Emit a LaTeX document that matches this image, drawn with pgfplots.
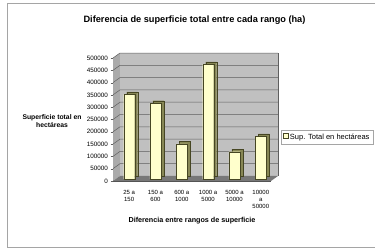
\documentclass[border=0pt]{standalone}
\usepackage{fontspec}
\setmainfont{Liberation Sans}
\usepackage{pgfplots}
\pgfplotsset{compat=1.18}
\definecolor{wall}{RGB}{192,192,192}
\definecolor{sidewall}{RGB}{170,170,170}
\definecolor{floorc}{RGB}{120,120,120}
\definecolor{gridc}{RGB}{95,95,95}
\definecolor{barfill}{RGB}{255,255,204}
\definecolor{barside}{RGB}{135,135,85}
\definecolor{baredge}{RGB}{70,70,35}
\definecolor{framec}{RGB}{165,165,165}
\begin{document}
\begin{tikzpicture}[x=1pt,y=1pt]
\useasboundingbox (0,0) rectangle (375,249);
\draw[framec, line width=0.9pt] (380,245.5) -- (7,245.5) -- (7,1.5) -- (380,1.5);
\node[font=\bfseries\fontsize{9.2}{10}\selectfont] at (194.5,229) {Diferencia de superficie total entre cada rango (ha)};
\node[font=\bfseries\fontsize{6.8}{8}\selectfont, align=center] at (52,128) {Superficie total en\\hectáreas};
\node[font=\bfseries\fontsize{7.2}{8}\selectfont] at (192,28.5) {Diferencia entre rangos de superficie};
\begin{axis}[
  at={(113pt,68pt)}, anchor=south west,
  scale only axis, width=158pt, height=123pt,
  xmin=-0.5, xmax=5.5, ymin=0, ymax=500000,
  axis lines*=left,
  axis line style={-},
  x axis line style={draw=none},
  y axis line style={draw=gridc},
  xtick={0,1,2,3,4,5},
  xticklabels={25 a\\150, 150 a\\600, 600 a\\1000, 1000 a\\5000, 5000 a\\10000, 10000\\a\\50000},
  xtick style={draw=none},
  xticklabel style={align=center, yshift=-3pt, xshift=3pt, font=\fontsize{6}{7}\selectfont},
  ytick={0,50000,100000,150000,200000,250000,300000,350000,400000,450000,500000},
  ytick style={draw=gridc},
  tick align=outside,
  major tick length=2.5pt,
  yticklabel style={font=\fontsize{6.3}{7}\selectfont, xshift=1pt, /pgf/number format/fixed, /pgf/number format/1000 sep={}, /pgf/number format/assume math mode=true},
  scaled y ticks=false,
  clip=false,
  legend style={at={(rel axis cs:1.063,0.355)}, anchor=west, draw=framec, font=\fontsize{7.5}{8}\selectfont, inner sep=1.5pt, row sep=0pt},
  legend image code/.code={\draw[fill=barfill, draw=baredge, line width=0.3pt] (0pt,-2.5pt) rectangle (5pt,2.5pt);},
]
% side wall
\fill[sidewall] (axis cs:-0.5,0) -- (axis cs:-0.5,500000) -- ([xshift=7pt,yshift=5pt]axis cs:-0.5,500000) -- ([xshift=7pt,yshift=5pt]axis cs:-0.5,0) -- cycle;
% back wall
\fill[wall] ([xshift=7pt,yshift=5pt]axis cs:-0.5,0) rectangle ([xshift=7pt,yshift=5pt]axis cs:5.5,500000);
% floor
\fill[floorc] (axis cs:-0.5,0) -- (axis cs:5.5,0) -- ([xshift=7pt,yshift=5pt]axis cs:5.5,0) -- ([xshift=7pt,yshift=5pt]axis cs:-0.5,0) -- cycle;
\fill[floorc!70!black] (axis cs:-0.5,0) -- (axis cs:5.5,0) -- ([yshift=-1.5pt]axis cs:5.5,0) -- ([yshift=-1.5pt]axis cs:-0.5,0) -- cycle;
\pgfplotsinvokeforeach{50000,100000,150000,200000,250000,300000,350000,400000,450000,500000}{
  \draw[gridc, line width=0.5pt] (axis cs:-0.5,#1) -- ([xshift=7pt,yshift=5pt]axis cs:-0.5,#1) -- ([xshift=7pt,yshift=5pt]axis cs:5.5,#1);
}
\draw[gridc, line width=0.5pt] ([xshift=7pt,yshift=5pt]axis cs:5.5,0) -- ([xshift=7pt,yshift=5pt]axis cs:5.5,500000);
% bars: depth side
\addplot[ybar, bar width=11pt, bar shift=6pt, yshift=4.5pt, fill=barside, draw=baredge, line width=0.3pt, forget plot]
  coordinates {(0,344000) (1,308000) (2,143000) (3,466000) (4,111000) (5,173000)};
% bars: front face
\addplot[ybar, bar width=11pt, bar shift=3pt, yshift=2pt, fill=barfill, draw=baredge, line width=0.3pt]
  coordinates {(0,344000) (1,308000) (2,143000) (3,466000) (4,111000) (5,173000)};
\addlegendentry{Sup. Total en hectáreas}
\end{axis}
\end{tikzpicture}
\end{document}
